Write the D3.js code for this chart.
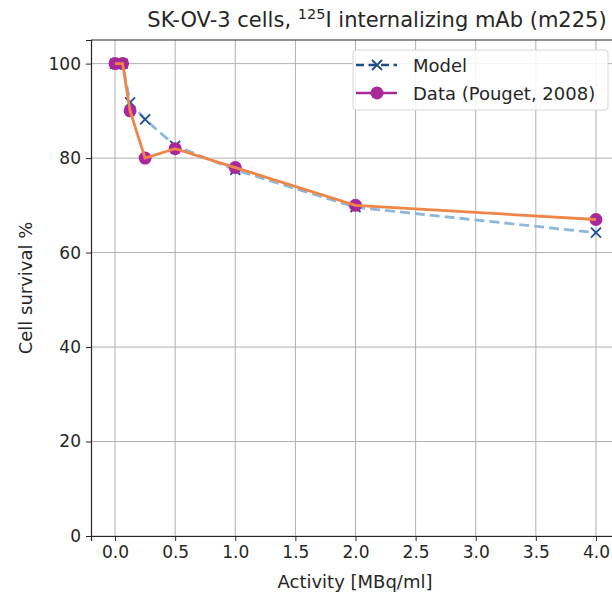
<!DOCTYPE html>
<html>
<head>
<meta charset="utf-8">
<script src="https://cdn.jsdelivr.net/npm/d3@7"></script>
<style>
  body { margin: 0; background: #fff; }
  text { font-family: "DejaVu Sans", sans-serif; fill: #262626; }
</style>
</head>
<body>
<div class="chart"></div>
<script>
// activity values (MBq/ml)
var activity = [0, 0.0625, 0.125, 0.25, 0.5, 1, 2, 4];
var modelSurvival = [100, 100, 91.8, 88.2, 82.6, 77.5, 69.6, 64.2];
var dataSurvival = [100, 100, 90, 80, 82, 78, 70, 67];
var xTicks = [0, 0.5, 1, 1.5, 2, 2.5, 3, 3.5, 4];
var yTicks = [0, 20, 40, 60, 80, 100];

var width = 612, height = 596;
var margin = { left: 91, top: 40, right: -8, bottom: 60 };

var svg = d3.select('.chart').append('svg')
  .attr('width', width).attr('height', height);

var x = d3.scaleLinear().domain([-0.2, 4.2]).range([margin.left, width - margin.right]);
var y = d3.scaleLinear().domain([0, 105]).range([height - margin.bottom, margin.top]);

// grid
svg.append('g').selectAll('line').data(xTicks).enter().append('line')
  .attr('x1', function (d) { return x(d); }).attr('x2', function (d) { return x(d); })
  .attr('y1', y(0)).attr('y2', y(105))
  .attr('stroke', '#b0b0b0').attr('stroke-width', 1);
svg.append('g').selectAll('line').data(yTicks).enter().append('line')
  .attr('x1', x(-0.2)).attr('x2', x(4.2))
  .attr('y1', function (d) { return y(d); }).attr('y2', function (d) { return y(d); })
  .attr('stroke', '#b0b0b0').attr('stroke-width', 1);

// axes
var xAxis = svg.append('g').attr('transform', 'translate(0,' + y(0) + ')')
  .call(d3.axisBottom(x).tickValues(xTicks).tickFormat(d3.format('.1f')).tickSizeOuter(0).tickSize(5).tickPadding(5));
var yAxis = svg.append('g').attr('transform', 'translate(' + x(-0.2) + ',0)')
  .call(d3.axisLeft(y).tickValues(yTicks).tickSizeOuter(0).tickSize(5).tickPadding(5));
[xAxis, yAxis].forEach(function (a) {
  a.selectAll('text').style('font-size', '17px').style('font-family', '"DejaVu Sans", sans-serif').attr('fill', '#262626');
  a.selectAll('line').attr('stroke', '#262626');
  a.select('.domain').attr('stroke', '#262626').attr('stroke-width', 1.2);
});
// top spine
svg.append('line').attr('x1', x(-0.2)).attr('x2', x(4.2)).attr('y1', y(105)).attr('y2', y(105))
  .attr('stroke', '#262626').attr('stroke-width', 1.2);

// labels
svg.append('text').attr('x', 355).attr('y', 588).attr('text-anchor', 'middle')
  .style('font-size', '18px').text('Activity [MBq/ml]');
svg.append('text').attr('transform', 'translate(32,' + y(52.5) + ') rotate(-90)')
  .attr('text-anchor', 'middle').style('font-size', '18px').text('Cell survival %');
var title = svg.append('text').attr('x', 377).attr('y', 27).attr('text-anchor', 'middle')
  .style('font-size', '21px');
title.append('tspan').text('SK-OV-3 cells, ');
title.append('tspan').attr('dy', -8).style('font-size', '14.5px').text('125');
title.append('tspan').attr('dy', 8).text('I internalizing mAb (m225)');

var line = d3.line()
  .x(function (d) { return x(d[0]); })
  .y(function (d) { return y(d[1]); });

var modelPts = activity.map(function (a, i) { return [a, modelSurvival[i]]; });
var dataPts = activity.map(function (a, i) { return [a, dataSurvival[i]]; });

// model: light dashed line with dark x markers
svg.append('path').datum(modelPts).attr('d', line)
  .attr('fill', 'none').attr('stroke', '#8fb8d8').attr('stroke-width', 2.8)
  .attr('stroke-dasharray', '10,5');
svg.append('g').selectAll('path').data(modelPts).enter().append('path')
  .attr('d', 'M-5,-5L5,5M-5,5L5,-5')
  .attr('transform', function (d) { return 'translate(' + x(d[0]) + ',' + y(d[1]) + ')'; })
  .attr('stroke', '#1f4e8c').attr('stroke-width', 1.8);

// data: purple markers with orange line on top
svg.append('g').selectAll('circle').data(dataPts).enter().append('circle')
  .attr('cx', function (d) { return x(d[0]); })
  .attr('cy', function (d) { return y(d[1]); })
  .attr('r', 6.5).attr('fill', '#a8289a');
svg.append('path').datum(dataPts).attr('d', line)
  .attr('fill', 'none').attr('stroke', '#ef8547').attr('stroke-width', 2.8);

// legend
var lg = svg.append('g').attr('transform', 'translate(353,50)');
lg.append('rect').attr('width', 255).attr('height', 60).attr('rx', 3)
  .attr('fill', 'rgba(255,255,255,0.85)').attr('stroke', '#d6d6d6');
lg.append('line').attr('x1', 3).attr('x2', 44).attr('y1', 15).attr('y2', 15)
  .attr('stroke', '#1f4e8c').attr('stroke-width', 2.4).attr('stroke-dasharray', '8,4.5');
lg.append('path').attr('d', 'M-5,-5L5,5M-5,5L5,-5')
  .attr('transform', 'translate(24,15)').attr('stroke', '#1f4e8c').attr('stroke-width', 1.8);
lg.append('text').attr('x', 60).attr('y', 21.5).style('font-size', '18px').text('Model');
lg.append('line').attr('x1', 3).attr('x2', 44).attr('y1', 43).attr('y2', 43)
  .attr('stroke', '#a8289a').attr('stroke-width', 2.4);
lg.append('circle').attr('cx', 24).attr('cy', 43).attr('r', 6.5).attr('fill', '#a8289a');
lg.append('text').attr('x', 60).attr('y', 49.5).style('font-size', '18px').text('Data (Pouget, 2008)');
</script>
</body>
</html>
